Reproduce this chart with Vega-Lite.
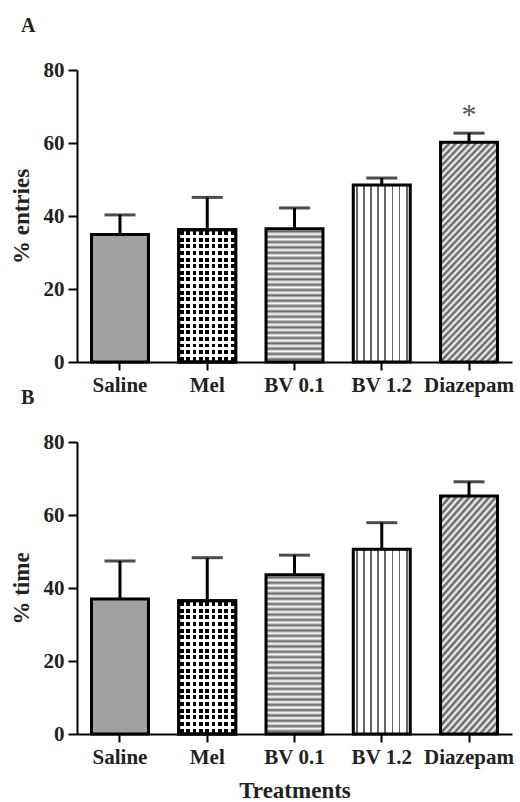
{
  "$schema": "https://vega.github.io/schema/vega-lite/v6.json",
  "padding": {"left": 10, "top": 16, "right": 4, "bottom": 4},
  "background": "white",
  "data": {"values": [
    {"panel": "A", "treatment": "Saline", "mean": 34.9, "upper": 40.3, "sig": ""},
    {"panel": "A", "treatment": "Mel", "mean": 36.2, "upper": 45.1, "sig": ""},
    {"panel": "A", "treatment": "BV 0.1", "mean": 36.5, "upper": 42.2, "sig": ""},
    {"panel": "A", "treatment": "BV 1.2", "mean": 48.5, "upper": 50.4, "sig": ""},
    {"panel": "A", "treatment": "Diazepam", "mean": 60.2, "upper": 62.7, "sig": "*"},
    {"panel": "B", "treatment": "Saline", "mean": 37.0, "upper": 47.4, "sig": ""},
    {"panel": "B", "treatment": "Mel", "mean": 36.5, "upper": 48.3, "sig": ""},
    {"panel": "B", "treatment": "BV 0.1", "mean": 43.6, "upper": 49.0, "sig": ""},
    {"panel": "B", "treatment": "BV 1.2", "mean": 50.6, "upper": 57.9, "sig": ""},
    {"panel": "B", "treatment": "Diazepam", "mean": 65.2, "upper": 69.1, "sig": ""}
  ]},
  "spacing": 80,
  "bounds": "flush",
  "vconcat": [
    {
      "width": 435,
      "height": 292,
      "title": {"text": "A", "anchor": "start", "frame": "group", "dx": -56, "offset": 7, "baseline": "alphabetic", "font": "Liberation Serif", "fontWeight": "bold", "fontSize": 20, "color": "#222"},
      "transform": [{"filter": "datum.panel === 'A'"}],
      "encoding": {
        "x": {"field": "treatment", "type": "nominal", "sort": ["Saline", "Mel", "BV 0.1", "BV 1.2", "Diazepam"], "scale": {"paddingInner": 0.347, "paddingOuter": 0.166}, "axis": {"title": null}}
      },
      "layer": [
        {"mark": {"type": "rule", "strokeWidth": 3, "color": "black"},
         "encoding": {"y": {"field": "mean", "type": "quantitative", "title": "% entries", "scale": {"domain": [0, 80], "nice": false}}, "y2": {"field": "upper"}}},
        {"mark": {"type": "tick", "orient": "horizontal", "size": 31, "thickness": 3, "color": "black"},
         "encoding": {"y": {"field": "upper", "type": "quantitative", "title": "% entries"}}},
        {"mark": {"type": "bar", "stroke": "black", "strokeWidth": 3},
         "encoding": {
           "y": {"field": "mean", "type": "quantitative", "title": "% entries", "axis": {"values": [0, 20, 40, 60, 80]}},
           "fill": {"condition": [
             {"test": "datum.treatment === 'Mel'", "value": {"gradient": "linear", "x1": 0, "y1": 0, "x2": 1, "y2": 0, "stops": [
               {"offset": 0, "color": "#fff"},
               {"offset": 0.0222, "color": "#fff"}, {"offset": 0.0222, "color": "#000"}, {"offset": 0.0889, "color": "#000"}, {"offset": 0.0889, "color": "#fff"},
               {"offset": 0.1333, "color": "#fff"}, {"offset": 0.1333, "color": "#000"}, {"offset": 0.2, "color": "#000"}, {"offset": 0.2, "color": "#fff"},
               {"offset": 0.2444, "color": "#fff"}, {"offset": 0.2444, "color": "#000"}, {"offset": 0.3111, "color": "#000"}, {"offset": 0.3111, "color": "#fff"},
               {"offset": 0.3556, "color": "#fff"}, {"offset": 0.3556, "color": "#000"}, {"offset": 0.4222, "color": "#000"}, {"offset": 0.4222, "color": "#fff"},
               {"offset": 0.4667, "color": "#fff"}, {"offset": 0.4667, "color": "#000"}, {"offset": 0.5333, "color": "#000"}, {"offset": 0.5333, "color": "#fff"},
               {"offset": 0.5778, "color": "#fff"}, {"offset": 0.5778, "color": "#000"}, {"offset": 0.6444, "color": "#000"}, {"offset": 0.6444, "color": "#fff"},
               {"offset": 0.6889, "color": "#fff"}, {"offset": 0.6889, "color": "#000"}, {"offset": 0.7556, "color": "#000"}, {"offset": 0.7556, "color": "#fff"},
               {"offset": 0.8, "color": "#fff"}, {"offset": 0.8, "color": "#000"}, {"offset": 0.8667, "color": "#000"}, {"offset": 0.8667, "color": "#fff"},
               {"offset": 0.9111, "color": "#fff"}, {"offset": 0.9111, "color": "#000"}, {"offset": 0.9778, "color": "#000"}, {"offset": 0.9778, "color": "#fff"},
               {"offset": 1, "color": "#fff"}]}},
             {"test": "datum.treatment === 'BV 0.1'", "value": {"gradient": "linear", "x1": 0, "y1": 0, "x2": 0, "y2": 1, "stops": [
               {"offset": 0, "color": "#fff"}, {"offset": 0.02, "color": "#666"}, {"offset": 0.04, "color": "#fff"}, {"offset": 0.06, "color": "#666"}, {"offset": 0.08, "color": "#fff"},
               {"offset": 0.1, "color": "#666"}, {"offset": 0.12, "color": "#fff"}, {"offset": 0.14, "color": "#666"}, {"offset": 0.16, "color": "#fff"}, {"offset": 0.18, "color": "#666"},
               {"offset": 0.2, "color": "#fff"}, {"offset": 0.22, "color": "#666"}, {"offset": 0.24, "color": "#fff"}, {"offset": 0.26, "color": "#666"}, {"offset": 0.28, "color": "#fff"},
               {"offset": 0.3, "color": "#666"}, {"offset": 0.32, "color": "#fff"}, {"offset": 0.34, "color": "#666"}, {"offset": 0.36, "color": "#fff"}, {"offset": 0.38, "color": "#666"},
               {"offset": 0.4, "color": "#fff"}, {"offset": 0.42, "color": "#666"}, {"offset": 0.44, "color": "#fff"}, {"offset": 0.46, "color": "#666"}, {"offset": 0.48, "color": "#fff"},
               {"offset": 0.5, "color": "#666"}, {"offset": 0.52, "color": "#fff"}, {"offset": 0.54, "color": "#666"}, {"offset": 0.56, "color": "#fff"}, {"offset": 0.58, "color": "#666"},
               {"offset": 0.6, "color": "#fff"}, {"offset": 0.62, "color": "#666"}, {"offset": 0.64, "color": "#fff"}, {"offset": 0.66, "color": "#666"}, {"offset": 0.68, "color": "#fff"},
               {"offset": 0.7, "color": "#666"}, {"offset": 0.72, "color": "#fff"}, {"offset": 0.74, "color": "#666"}, {"offset": 0.76, "color": "#fff"}, {"offset": 0.78, "color": "#666"},
               {"offset": 0.8, "color": "#fff"}, {"offset": 0.82, "color": "#666"}, {"offset": 0.84, "color": "#fff"}, {"offset": 0.86, "color": "#666"}, {"offset": 0.88, "color": "#fff"},
               {"offset": 0.9, "color": "#666"}, {"offset": 0.92, "color": "#fff"}, {"offset": 0.94, "color": "#666"}, {"offset": 0.96, "color": "#fff"}, {"offset": 0.98, "color": "#666"},
               {"offset": 1, "color": "#fff"}]}},
             {"test": "datum.treatment === 'BV 1.2'", "value": {"gradient": "linear", "x1": 0, "y1": 0, "x2": 1, "y2": 0, "stops": [
               {"offset": 0, "color": "#fff"},
               {"offset": 0.0469, "color": "#fff"}, {"offset": 0.0469, "color": "#666"}, {"offset": 0.0781, "color": "#666"}, {"offset": 0.0781, "color": "#fff"},
               {"offset": 0.1719, "color": "#fff"}, {"offset": 0.1719, "color": "#666"}, {"offset": 0.2031, "color": "#666"}, {"offset": 0.2031, "color": "#fff"},
               {"offset": 0.2969, "color": "#fff"}, {"offset": 0.2969, "color": "#666"}, {"offset": 0.3281, "color": "#666"}, {"offset": 0.3281, "color": "#fff"},
               {"offset": 0.4219, "color": "#fff"}, {"offset": 0.4219, "color": "#666"}, {"offset": 0.4531, "color": "#666"}, {"offset": 0.4531, "color": "#fff"},
               {"offset": 0.5469, "color": "#fff"}, {"offset": 0.5469, "color": "#666"}, {"offset": 0.5781, "color": "#666"}, {"offset": 0.5781, "color": "#fff"},
               {"offset": 0.6719, "color": "#fff"}, {"offset": 0.6719, "color": "#666"}, {"offset": 0.7031, "color": "#666"}, {"offset": 0.7031, "color": "#fff"},
               {"offset": 0.7969, "color": "#fff"}, {"offset": 0.7969, "color": "#666"}, {"offset": 0.8281, "color": "#666"}, {"offset": 0.8281, "color": "#fff"},
               {"offset": 0.9219, "color": "#fff"}, {"offset": 0.9219, "color": "#666"}, {"offset": 0.9531, "color": "#666"}, {"offset": 0.9531, "color": "#fff"},
               {"offset": 1, "color": "#fff"}]}},
             {"test": "datum.treatment === 'Diazepam'", "value": {"gradient": "linear", "x1": 0, "y1": 0, "x2": 0.321, "y2": 1.18, "stops": [
               {"offset": 0, "color": "#fff"}, {"offset": 0.0125, "color": "#555"}, {"offset": 0.025, "color": "#fff"}, {"offset": 0.0375, "color": "#555"}, {"offset": 0.05, "color": "#fff"},
               {"offset": 0.0625, "color": "#555"}, {"offset": 0.075, "color": "#fff"}, {"offset": 0.0875, "color": "#555"}, {"offset": 0.1, "color": "#fff"}, {"offset": 0.1125, "color": "#555"},
               {"offset": 0.125, "color": "#fff"}, {"offset": 0.1375, "color": "#555"}, {"offset": 0.15, "color": "#fff"}, {"offset": 0.1625, "color": "#555"}, {"offset": 0.175, "color": "#fff"},
               {"offset": 0.1875, "color": "#555"}, {"offset": 0.2, "color": "#fff"}, {"offset": 0.2125, "color": "#555"}, {"offset": 0.225, "color": "#fff"}, {"offset": 0.2375, "color": "#555"},
               {"offset": 0.25, "color": "#fff"}, {"offset": 0.2625, "color": "#555"}, {"offset": 0.275, "color": "#fff"}, {"offset": 0.2875, "color": "#555"}, {"offset": 0.3, "color": "#fff"},
               {"offset": 0.3125, "color": "#555"}, {"offset": 0.325, "color": "#fff"}, {"offset": 0.3375, "color": "#555"}, {"offset": 0.35, "color": "#fff"}, {"offset": 0.3625, "color": "#555"},
               {"offset": 0.375, "color": "#fff"}, {"offset": 0.3875, "color": "#555"}, {"offset": 0.4, "color": "#fff"}, {"offset": 0.4125, "color": "#555"}, {"offset": 0.425, "color": "#fff"},
               {"offset": 0.4375, "color": "#555"}, {"offset": 0.45, "color": "#fff"}, {"offset": 0.4625, "color": "#555"}, {"offset": 0.475, "color": "#fff"}, {"offset": 0.4875, "color": "#555"},
               {"offset": 0.5, "color": "#fff"}, {"offset": 0.5125, "color": "#555"}, {"offset": 0.525, "color": "#fff"}, {"offset": 0.5375, "color": "#555"}, {"offset": 0.55, "color": "#fff"},
               {"offset": 0.5625, "color": "#555"}, {"offset": 0.575, "color": "#fff"}, {"offset": 0.5875, "color": "#555"}, {"offset": 0.6, "color": "#fff"}, {"offset": 0.6125, "color": "#555"},
               {"offset": 0.625, "color": "#fff"}, {"offset": 0.6375, "color": "#555"}, {"offset": 0.65, "color": "#fff"}, {"offset": 0.6625, "color": "#555"}, {"offset": 0.675, "color": "#fff"},
               {"offset": 0.6875, "color": "#555"}, {"offset": 0.7, "color": "#fff"}, {"offset": 0.7125, "color": "#555"}, {"offset": 0.725, "color": "#fff"}, {"offset": 0.7375, "color": "#555"},
               {"offset": 0.75, "color": "#fff"}, {"offset": 0.7625, "color": "#555"}, {"offset": 0.775, "color": "#fff"}, {"offset": 0.7875, "color": "#555"}, {"offset": 0.8, "color": "#fff"},
               {"offset": 0.8125, "color": "#555"}, {"offset": 0.825, "color": "#fff"}, {"offset": 0.8375, "color": "#555"}, {"offset": 0.85, "color": "#fff"}, {"offset": 0.8625, "color": "#555"},
               {"offset": 0.875, "color": "#fff"}, {"offset": 0.8875, "color": "#555"}, {"offset": 0.9, "color": "#fff"}, {"offset": 0.9125, "color": "#555"}, {"offset": 0.925, "color": "#fff"},
               {"offset": 0.9375, "color": "#555"}, {"offset": 0.95, "color": "#fff"}, {"offset": 0.9625, "color": "#555"}, {"offset": 0.975, "color": "#fff"}, {"offset": 0.9875, "color": "#555"},
               {"offset": 1, "color": "#fff"}]}}
           ], "value": "#a0a0a0"}
         }},
        {"transform": [{"filter": "datum.treatment === 'Mel'"}],
         "mark": {"type": "bar", "stroke": "black", "strokeWidth": 3, "fill": {"gradient": "linear", "x1": 0, "y1": 0, "x2": 0, "y2": 1, "stops": [
           {"offset": 0, "color": "#fff"},
           {"offset": 0.01, "color": "#fff"}, {"offset": 0.01, "color": "rgba(255,255,255,0)"}, {"offset": 0.04, "color": "rgba(255,255,255,0)"}, {"offset": 0.04, "color": "#fff"},
           {"offset": 0.06, "color": "#fff"}, {"offset": 0.06, "color": "rgba(255,255,255,0)"}, {"offset": 0.09, "color": "rgba(255,255,255,0)"}, {"offset": 0.09, "color": "#fff"},
           {"offset": 0.11, "color": "#fff"}, {"offset": 0.11, "color": "rgba(255,255,255,0)"}, {"offset": 0.14, "color": "rgba(255,255,255,0)"}, {"offset": 0.14, "color": "#fff"},
           {"offset": 0.16, "color": "#fff"}, {"offset": 0.16, "color": "rgba(255,255,255,0)"}, {"offset": 0.19, "color": "rgba(255,255,255,0)"}, {"offset": 0.19, "color": "#fff"},
           {"offset": 0.21, "color": "#fff"}, {"offset": 0.21, "color": "rgba(255,255,255,0)"}, {"offset": 0.24, "color": "rgba(255,255,255,0)"}, {"offset": 0.24, "color": "#fff"},
           {"offset": 0.26, "color": "#fff"}, {"offset": 0.26, "color": "rgba(255,255,255,0)"}, {"offset": 0.29, "color": "rgba(255,255,255,0)"}, {"offset": 0.29, "color": "#fff"},
           {"offset": 0.31, "color": "#fff"}, {"offset": 0.31, "color": "rgba(255,255,255,0)"}, {"offset": 0.34, "color": "rgba(255,255,255,0)"}, {"offset": 0.34, "color": "#fff"},
           {"offset": 0.36, "color": "#fff"}, {"offset": 0.36, "color": "rgba(255,255,255,0)"}, {"offset": 0.39, "color": "rgba(255,255,255,0)"}, {"offset": 0.39, "color": "#fff"},
           {"offset": 0.41, "color": "#fff"}, {"offset": 0.41, "color": "rgba(255,255,255,0)"}, {"offset": 0.44, "color": "rgba(255,255,255,0)"}, {"offset": 0.44, "color": "#fff"},
           {"offset": 0.46, "color": "#fff"}, {"offset": 0.46, "color": "rgba(255,255,255,0)"}, {"offset": 0.49, "color": "rgba(255,255,255,0)"}, {"offset": 0.49, "color": "#fff"},
           {"offset": 0.51, "color": "#fff"}, {"offset": 0.51, "color": "rgba(255,255,255,0)"}, {"offset": 0.54, "color": "rgba(255,255,255,0)"}, {"offset": 0.54, "color": "#fff"},
           {"offset": 0.56, "color": "#fff"}, {"offset": 0.56, "color": "rgba(255,255,255,0)"}, {"offset": 0.59, "color": "rgba(255,255,255,0)"}, {"offset": 0.59, "color": "#fff"},
           {"offset": 0.61, "color": "#fff"}, {"offset": 0.61, "color": "rgba(255,255,255,0)"}, {"offset": 0.64, "color": "rgba(255,255,255,0)"}, {"offset": 0.64, "color": "#fff"},
           {"offset": 0.66, "color": "#fff"}, {"offset": 0.66, "color": "rgba(255,255,255,0)"}, {"offset": 0.69, "color": "rgba(255,255,255,0)"}, {"offset": 0.69, "color": "#fff"},
           {"offset": 0.71, "color": "#fff"}, {"offset": 0.71, "color": "rgba(255,255,255,0)"}, {"offset": 0.74, "color": "rgba(255,255,255,0)"}, {"offset": 0.74, "color": "#fff"},
           {"offset": 0.76, "color": "#fff"}, {"offset": 0.76, "color": "rgba(255,255,255,0)"}, {"offset": 0.79, "color": "rgba(255,255,255,0)"}, {"offset": 0.79, "color": "#fff"},
           {"offset": 0.81, "color": "#fff"}, {"offset": 0.81, "color": "rgba(255,255,255,0)"}, {"offset": 0.84, "color": "rgba(255,255,255,0)"}, {"offset": 0.84, "color": "#fff"},
           {"offset": 0.86, "color": "#fff"}, {"offset": 0.86, "color": "rgba(255,255,255,0)"}, {"offset": 0.89, "color": "rgba(255,255,255,0)"}, {"offset": 0.89, "color": "#fff"},
           {"offset": 0.91, "color": "#fff"}, {"offset": 0.91, "color": "rgba(255,255,255,0)"}, {"offset": 0.94, "color": "rgba(255,255,255,0)"}, {"offset": 0.94, "color": "#fff"},
           {"offset": 0.96, "color": "#fff"}, {"offset": 0.96, "color": "rgba(255,255,255,0)"}, {"offset": 0.99, "color": "rgba(255,255,255,0)"}, {"offset": 0.99, "color": "#fff"},
           {"offset": 1, "color": "#fff"}]}},
         "encoding": {"y": {"field": "mean", "type": "quantitative", "title": "% entries"}}},
        {"transform": [{"filter": "datum.sig !== ''"}],
         "mark": {"type": "text", "font": "Liberation Serif", "fontSize": 30, "color": "#555", "baseline": "alphabetic", "dy": -9},
         "encoding": {"y": {"field": "upper", "type": "quantitative", "title": "% entries"}, "text": {"field": "sig"}}}
      ]
    },
    {
      "width": 435,
      "height": 292,
      "title": {"text": "B", "anchor": "start", "frame": "group", "dx": -56, "offset": 7, "baseline": "alphabetic", "font": "Liberation Serif", "fontWeight": "bold", "fontSize": 20, "color": "#222"},
      "transform": [{"filter": "datum.panel === 'B'"}],
      "encoding": {
        "x": {"field": "treatment", "type": "nominal", "sort": ["Saline", "Mel", "BV 0.1", "BV 1.2", "Diazepam"], "scale": {"paddingInner": 0.347, "paddingOuter": 0.166}, "axis": {"title": "Treatments", "titlePadding": 12}}
      },
      "layer": [
        {"mark": {"type": "rule", "strokeWidth": 3, "color": "black"},
         "encoding": {"y": {"field": "mean", "type": "quantitative", "title": "% time", "scale": {"domain": [0, 80], "nice": false}}, "y2": {"field": "upper"}}},
        {"mark": {"type": "tick", "orient": "horizontal", "size": 31, "thickness": 3, "color": "black"},
         "encoding": {"y": {"field": "upper", "type": "quantitative", "title": "% time"}}},
        {"mark": {"type": "bar", "stroke": "black", "strokeWidth": 3},
         "encoding": {
           "y": {"field": "mean", "type": "quantitative", "title": "% time", "axis": {"values": [0, 20, 40, 60, 80]}},
           "fill": {"condition": [
             {"test": "datum.treatment === 'Mel'", "value": {"gradient": "linear", "x1": 0, "y1": 0, "x2": 1, "y2": 0, "stops": [
               {"offset": 0, "color": "#fff"},
               {"offset": 0.0222, "color": "#fff"}, {"offset": 0.0222, "color": "#000"}, {"offset": 0.0889, "color": "#000"}, {"offset": 0.0889, "color": "#fff"},
               {"offset": 0.1333, "color": "#fff"}, {"offset": 0.1333, "color": "#000"}, {"offset": 0.2, "color": "#000"}, {"offset": 0.2, "color": "#fff"},
               {"offset": 0.2444, "color": "#fff"}, {"offset": 0.2444, "color": "#000"}, {"offset": 0.3111, "color": "#000"}, {"offset": 0.3111, "color": "#fff"},
               {"offset": 0.3556, "color": "#fff"}, {"offset": 0.3556, "color": "#000"}, {"offset": 0.4222, "color": "#000"}, {"offset": 0.4222, "color": "#fff"},
               {"offset": 0.4667, "color": "#fff"}, {"offset": 0.4667, "color": "#000"}, {"offset": 0.5333, "color": "#000"}, {"offset": 0.5333, "color": "#fff"},
               {"offset": 0.5778, "color": "#fff"}, {"offset": 0.5778, "color": "#000"}, {"offset": 0.6444, "color": "#000"}, {"offset": 0.6444, "color": "#fff"},
               {"offset": 0.6889, "color": "#fff"}, {"offset": 0.6889, "color": "#000"}, {"offset": 0.7556, "color": "#000"}, {"offset": 0.7556, "color": "#fff"},
               {"offset": 0.8, "color": "#fff"}, {"offset": 0.8, "color": "#000"}, {"offset": 0.8667, "color": "#000"}, {"offset": 0.8667, "color": "#fff"},
               {"offset": 0.9111, "color": "#fff"}, {"offset": 0.9111, "color": "#000"}, {"offset": 0.9778, "color": "#000"}, {"offset": 0.9778, "color": "#fff"},
               {"offset": 1, "color": "#fff"}]}},
             {"test": "datum.treatment === 'BV 0.1'", "value": {"gradient": "linear", "x1": 0, "y1": 0, "x2": 0, "y2": 1, "stops": [
               {"offset": 0, "color": "#fff"}, {"offset": 0.0167, "color": "#666"}, {"offset": 0.0333, "color": "#fff"}, {"offset": 0.05, "color": "#666"}, {"offset": 0.0667, "color": "#fff"},
               {"offset": 0.0833, "color": "#666"}, {"offset": 0.1, "color": "#fff"}, {"offset": 0.1167, "color": "#666"}, {"offset": 0.1333, "color": "#fff"}, {"offset": 0.15, "color": "#666"},
               {"offset": 0.1667, "color": "#fff"}, {"offset": 0.1833, "color": "#666"}, {"offset": 0.2, "color": "#fff"}, {"offset": 0.2167, "color": "#666"}, {"offset": 0.2333, "color": "#fff"},
               {"offset": 0.25, "color": "#666"}, {"offset": 0.2667, "color": "#fff"}, {"offset": 0.2833, "color": "#666"}, {"offset": 0.3, "color": "#fff"}, {"offset": 0.3167, "color": "#666"},
               {"offset": 0.3333, "color": "#fff"}, {"offset": 0.35, "color": "#666"}, {"offset": 0.3667, "color": "#fff"}, {"offset": 0.3833, "color": "#666"}, {"offset": 0.4, "color": "#fff"},
               {"offset": 0.4167, "color": "#666"}, {"offset": 0.4333, "color": "#fff"}, {"offset": 0.45, "color": "#666"}, {"offset": 0.4667, "color": "#fff"}, {"offset": 0.4833, "color": "#666"},
               {"offset": 0.5, "color": "#fff"}, {"offset": 0.5167, "color": "#666"}, {"offset": 0.5333, "color": "#fff"}, {"offset": 0.55, "color": "#666"}, {"offset": 0.5667, "color": "#fff"},
               {"offset": 0.5833, "color": "#666"}, {"offset": 0.6, "color": "#fff"}, {"offset": 0.6167, "color": "#666"}, {"offset": 0.6333, "color": "#fff"}, {"offset": 0.65, "color": "#666"},
               {"offset": 0.6667, "color": "#fff"}, {"offset": 0.6833, "color": "#666"}, {"offset": 0.7, "color": "#fff"}, {"offset": 0.7167, "color": "#666"}, {"offset": 0.7333, "color": "#fff"},
               {"offset": 0.75, "color": "#666"}, {"offset": 0.7667, "color": "#fff"}, {"offset": 0.7833, "color": "#666"}, {"offset": 0.8, "color": "#fff"}, {"offset": 0.8167, "color": "#666"},
               {"offset": 0.8333, "color": "#fff"}, {"offset": 0.85, "color": "#666"}, {"offset": 0.8667, "color": "#fff"}, {"offset": 0.8833, "color": "#666"}, {"offset": 0.9, "color": "#fff"},
               {"offset": 0.9167, "color": "#666"}, {"offset": 0.9333, "color": "#fff"}, {"offset": 0.95, "color": "#666"}, {"offset": 0.9667, "color": "#fff"}, {"offset": 0.9833, "color": "#666"},
               {"offset": 1, "color": "#fff"}]}},
             {"test": "datum.treatment === 'BV 1.2'", "value": {"gradient": "linear", "x1": 0, "y1": 0, "x2": 1, "y2": 0, "stops": [
               {"offset": 0, "color": "#fff"},
               {"offset": 0.0469, "color": "#fff"}, {"offset": 0.0469, "color": "#666"}, {"offset": 0.0781, "color": "#666"}, {"offset": 0.0781, "color": "#fff"},
               {"offset": 0.1719, "color": "#fff"}, {"offset": 0.1719, "color": "#666"}, {"offset": 0.2031, "color": "#666"}, {"offset": 0.2031, "color": "#fff"},
               {"offset": 0.2969, "color": "#fff"}, {"offset": 0.2969, "color": "#666"}, {"offset": 0.3281, "color": "#666"}, {"offset": 0.3281, "color": "#fff"},
               {"offset": 0.4219, "color": "#fff"}, {"offset": 0.4219, "color": "#666"}, {"offset": 0.4531, "color": "#666"}, {"offset": 0.4531, "color": "#fff"},
               {"offset": 0.5469, "color": "#fff"}, {"offset": 0.5469, "color": "#666"}, {"offset": 0.5781, "color": "#666"}, {"offset": 0.5781, "color": "#fff"},
               {"offset": 0.6719, "color": "#fff"}, {"offset": 0.6719, "color": "#666"}, {"offset": 0.7031, "color": "#666"}, {"offset": 0.7031, "color": "#fff"},
               {"offset": 0.7969, "color": "#fff"}, {"offset": 0.7969, "color": "#666"}, {"offset": 0.8281, "color": "#666"}, {"offset": 0.8281, "color": "#fff"},
               {"offset": 0.9219, "color": "#fff"}, {"offset": 0.9219, "color": "#666"}, {"offset": 0.9531, "color": "#666"}, {"offset": 0.9531, "color": "#fff"},
               {"offset": 1, "color": "#fff"}]}},
             {"test": "datum.treatment === 'Diazepam'", "value": {"gradient": "linear", "x1": 0, "y1": 0, "x2": 0.321, "y2": 1.18, "stops": [
               {"offset": 0, "color": "#fff"}, {"offset": 0.0125, "color": "#555"}, {"offset": 0.025, "color": "#fff"}, {"offset": 0.0375, "color": "#555"}, {"offset": 0.05, "color": "#fff"},
               {"offset": 0.0625, "color": "#555"}, {"offset": 0.075, "color": "#fff"}, {"offset": 0.0875, "color": "#555"}, {"offset": 0.1, "color": "#fff"}, {"offset": 0.1125, "color": "#555"},
               {"offset": 0.125, "color": "#fff"}, {"offset": 0.1375, "color": "#555"}, {"offset": 0.15, "color": "#fff"}, {"offset": 0.1625, "color": "#555"}, {"offset": 0.175, "color": "#fff"},
               {"offset": 0.1875, "color": "#555"}, {"offset": 0.2, "color": "#fff"}, {"offset": 0.2125, "color": "#555"}, {"offset": 0.225, "color": "#fff"}, {"offset": 0.2375, "color": "#555"},
               {"offset": 0.25, "color": "#fff"}, {"offset": 0.2625, "color": "#555"}, {"offset": 0.275, "color": "#fff"}, {"offset": 0.2875, "color": "#555"}, {"offset": 0.3, "color": "#fff"},
               {"offset": 0.3125, "color": "#555"}, {"offset": 0.325, "color": "#fff"}, {"offset": 0.3375, "color": "#555"}, {"offset": 0.35, "color": "#fff"}, {"offset": 0.3625, "color": "#555"},
               {"offset": 0.375, "color": "#fff"}, {"offset": 0.3875, "color": "#555"}, {"offset": 0.4, "color": "#fff"}, {"offset": 0.4125, "color": "#555"}, {"offset": 0.425, "color": "#fff"},
               {"offset": 0.4375, "color": "#555"}, {"offset": 0.45, "color": "#fff"}, {"offset": 0.4625, "color": "#555"}, {"offset": 0.475, "color": "#fff"}, {"offset": 0.4875, "color": "#555"},
               {"offset": 0.5, "color": "#fff"}, {"offset": 0.5125, "color": "#555"}, {"offset": 0.525, "color": "#fff"}, {"offset": 0.5375, "color": "#555"}, {"offset": 0.55, "color": "#fff"},
               {"offset": 0.5625, "color": "#555"}, {"offset": 0.575, "color": "#fff"}, {"offset": 0.5875, "color": "#555"}, {"offset": 0.6, "color": "#fff"}, {"offset": 0.6125, "color": "#555"},
               {"offset": 0.625, "color": "#fff"}, {"offset": 0.6375, "color": "#555"}, {"offset": 0.65, "color": "#fff"}, {"offset": 0.6625, "color": "#555"}, {"offset": 0.675, "color": "#fff"},
               {"offset": 0.6875, "color": "#555"}, {"offset": 0.7, "color": "#fff"}, {"offset": 0.7125, "color": "#555"}, {"offset": 0.725, "color": "#fff"}, {"offset": 0.7375, "color": "#555"},
               {"offset": 0.75, "color": "#fff"}, {"offset": 0.7625, "color": "#555"}, {"offset": 0.775, "color": "#fff"}, {"offset": 0.7875, "color": "#555"}, {"offset": 0.8, "color": "#fff"},
               {"offset": 0.8125, "color": "#555"}, {"offset": 0.825, "color": "#fff"}, {"offset": 0.8375, "color": "#555"}, {"offset": 0.85, "color": "#fff"}, {"offset": 0.8625, "color": "#555"},
               {"offset": 0.875, "color": "#fff"}, {"offset": 0.8875, "color": "#555"}, {"offset": 0.9, "color": "#fff"}, {"offset": 0.9125, "color": "#555"}, {"offset": 0.925, "color": "#fff"},
               {"offset": 0.9375, "color": "#555"}, {"offset": 0.95, "color": "#fff"}, {"offset": 0.9625, "color": "#555"}, {"offset": 0.975, "color": "#fff"}, {"offset": 0.9875, "color": "#555"},
               {"offset": 1, "color": "#fff"}]}}
           ], "value": "#a0a0a0"}
         }},
        {"transform": [{"filter": "datum.treatment === 'Mel'"}],
         "mark": {"type": "bar", "stroke": "black", "strokeWidth": 3, "fill": {"gradient": "linear", "x1": 0, "y1": 0, "x2": 0, "y2": 1, "stops": [
           {"offset": 0, "color": "#fff"},
           {"offset": 0.01, "color": "#fff"}, {"offset": 0.01, "color": "rgba(255,255,255,0)"}, {"offset": 0.04, "color": "rgba(255,255,255,0)"}, {"offset": 0.04, "color": "#fff"},
           {"offset": 0.06, "color": "#fff"}, {"offset": 0.06, "color": "rgba(255,255,255,0)"}, {"offset": 0.09, "color": "rgba(255,255,255,0)"}, {"offset": 0.09, "color": "#fff"},
           {"offset": 0.11, "color": "#fff"}, {"offset": 0.11, "color": "rgba(255,255,255,0)"}, {"offset": 0.14, "color": "rgba(255,255,255,0)"}, {"offset": 0.14, "color": "#fff"},
           {"offset": 0.16, "color": "#fff"}, {"offset": 0.16, "color": "rgba(255,255,255,0)"}, {"offset": 0.19, "color": "rgba(255,255,255,0)"}, {"offset": 0.19, "color": "#fff"},
           {"offset": 0.21, "color": "#fff"}, {"offset": 0.21, "color": "rgba(255,255,255,0)"}, {"offset": 0.24, "color": "rgba(255,255,255,0)"}, {"offset": 0.24, "color": "#fff"},
           {"offset": 0.26, "color": "#fff"}, {"offset": 0.26, "color": "rgba(255,255,255,0)"}, {"offset": 0.29, "color": "rgba(255,255,255,0)"}, {"offset": 0.29, "color": "#fff"},
           {"offset": 0.31, "color": "#fff"}, {"offset": 0.31, "color": "rgba(255,255,255,0)"}, {"offset": 0.34, "color": "rgba(255,255,255,0)"}, {"offset": 0.34, "color": "#fff"},
           {"offset": 0.36, "color": "#fff"}, {"offset": 0.36, "color": "rgba(255,255,255,0)"}, {"offset": 0.39, "color": "rgba(255,255,255,0)"}, {"offset": 0.39, "color": "#fff"},
           {"offset": 0.41, "color": "#fff"}, {"offset": 0.41, "color": "rgba(255,255,255,0)"}, {"offset": 0.44, "color": "rgba(255,255,255,0)"}, {"offset": 0.44, "color": "#fff"},
           {"offset": 0.46, "color": "#fff"}, {"offset": 0.46, "color": "rgba(255,255,255,0)"}, {"offset": 0.49, "color": "rgba(255,255,255,0)"}, {"offset": 0.49, "color": "#fff"},
           {"offset": 0.51, "color": "#fff"}, {"offset": 0.51, "color": "rgba(255,255,255,0)"}, {"offset": 0.54, "color": "rgba(255,255,255,0)"}, {"offset": 0.54, "color": "#fff"},
           {"offset": 0.56, "color": "#fff"}, {"offset": 0.56, "color": "rgba(255,255,255,0)"}, {"offset": 0.59, "color": "rgba(255,255,255,0)"}, {"offset": 0.59, "color": "#fff"},
           {"offset": 0.61, "color": "#fff"}, {"offset": 0.61, "color": "rgba(255,255,255,0)"}, {"offset": 0.64, "color": "rgba(255,255,255,0)"}, {"offset": 0.64, "color": "#fff"},
           {"offset": 0.66, "color": "#fff"}, {"offset": 0.66, "color": "rgba(255,255,255,0)"}, {"offset": 0.69, "color": "rgba(255,255,255,0)"}, {"offset": 0.69, "color": "#fff"},
           {"offset": 0.71, "color": "#fff"}, {"offset": 0.71, "color": "rgba(255,255,255,0)"}, {"offset": 0.74, "color": "rgba(255,255,255,0)"}, {"offset": 0.74, "color": "#fff"},
           {"offset": 0.76, "color": "#fff"}, {"offset": 0.76, "color": "rgba(255,255,255,0)"}, {"offset": 0.79, "color": "rgba(255,255,255,0)"}, {"offset": 0.79, "color": "#fff"},
           {"offset": 0.81, "color": "#fff"}, {"offset": 0.81, "color": "rgba(255,255,255,0)"}, {"offset": 0.84, "color": "rgba(255,255,255,0)"}, {"offset": 0.84, "color": "#fff"},
           {"offset": 0.86, "color": "#fff"}, {"offset": 0.86, "color": "rgba(255,255,255,0)"}, {"offset": 0.89, "color": "rgba(255,255,255,0)"}, {"offset": 0.89, "color": "#fff"},
           {"offset": 0.91, "color": "#fff"}, {"offset": 0.91, "color": "rgba(255,255,255,0)"}, {"offset": 0.94, "color": "rgba(255,255,255,0)"}, {"offset": 0.94, "color": "#fff"},
           {"offset": 0.96, "color": "#fff"}, {"offset": 0.96, "color": "rgba(255,255,255,0)"}, {"offset": 0.99, "color": "rgba(255,255,255,0)"}, {"offset": 0.99, "color": "#fff"},
           {"offset": 1, "color": "#fff"}]}},
         "encoding": {"y": {"field": "mean", "type": "quantitative", "title": "% time"}}}
      ]
    }
  ],
  "config": {
    "view": {"stroke": null},
    "axis": {
      "grid": false,
      "domainColor": "black", "domainWidth": 2,
      "tickColor": "black", "tickWidth": 2,
      "labelFont": "Liberation Serif", "labelFontWeight": "bold", "labelFontSize": 21, "labelColor": "#222",
      "titleFont": "Liberation Serif", "titleFontWeight": "bold", "titleFontSize": 23, "titleColor": "#222"
    },
    "axisX": {"labelAngle": 0, "tickSize": 8, "labelPadding": 4, "titlePadding": 6},
    "axisY": {"tickSize": 9, "labelPadding": 4, "titlePadding": 10}
  }
}
